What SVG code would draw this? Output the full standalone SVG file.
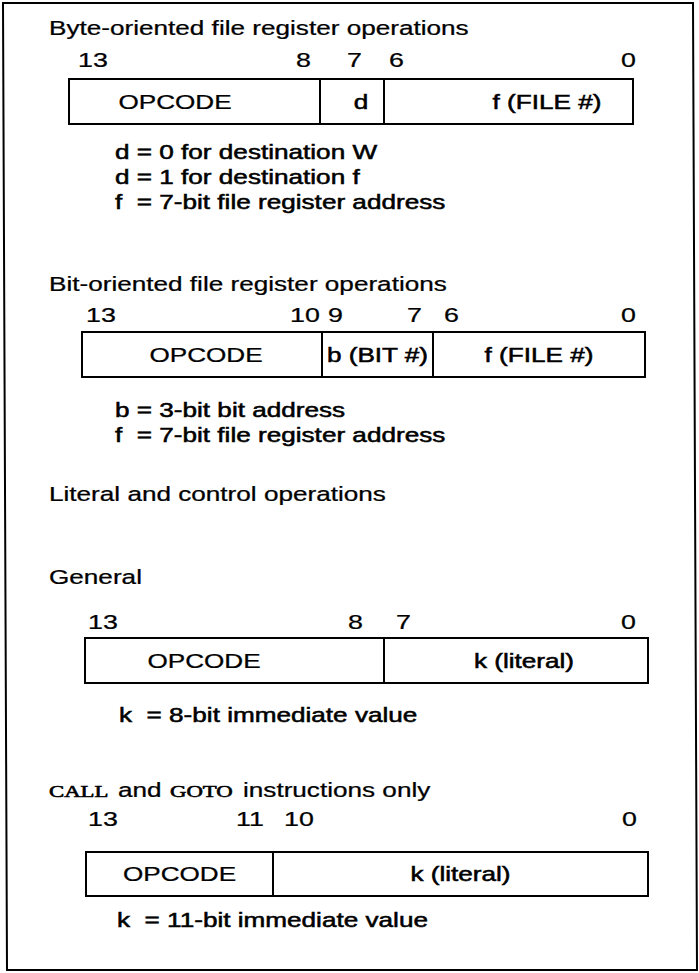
<svg xmlns="http://www.w3.org/2000/svg" width="699" height="973" viewBox="0 0 699 973">
<style>
  text { font-family: "Liberation Sans", Arial, sans-serif; font-size: 19.5px; fill: #000; stroke: #000; stroke-width: 0.25px; }
  .num { font-size: 20px; }
  .hv { stroke-width: 0.5px; }
  .mono { font-family: "Liberation Serif", "Times New Roman", serif; font-size: 17px; stroke-width: 0.6px; }
  .mid { text-anchor: middle; }
  .pre { white-space: pre; }
  .box { fill: none; stroke: #000; stroke-width: 2; }
  .div { stroke: #000; stroke-width: 2; }
  .frame { fill: none; stroke: #000; stroke-width: 2; }
</style>
<rect x="0" y="0" width="699" height="973" fill="#fff"/>
<polygon class="frame" points="3,3 693,3 697,970 7,970"/>

<!-- Section 1: Byte-oriented -->
<g id="byte-title">
  <text transform="translate(49,35) scale(1.34 1)">Byte-oriented file register operations</text>
</g>
<g id="byte-bits">
  <text class="num" transform="translate(78,67) scale(1.34 1)">13</text>
  <text class="num" transform="translate(296,67) scale(1.34 1)">8</text>
  <text class="num" transform="translate(347,67) scale(1.34 1)">7</text>
  <text class="num" transform="translate(389,67) scale(1.34 1)">6</text>
  <text class="num" transform="translate(621,67) scale(1.34 1)">0</text>
</g>
<g id="byte-format">
  <rect class="box" x="69" y="79" width="564" height="45"/>
  <line class="div" x1="320" y1="79" x2="320" y2="124"/>
  <line class="div" x1="384" y1="79" x2="384" y2="124"/>
  <text class="mid" transform="translate(175,109) scale(1.34 1)">OPCODE</text>
  <text class="mid hv" transform="translate(361,109) scale(1.34 1)">d</text>
  <text class="mid hv" transform="translate(547,109) scale(1.34 1)">f (FILE #)</text>
</g>
<g id="byte-notes">
  <text class="hv" transform="translate(115,159) scale(1.34 1)">d = 0 for destination W</text>
  <text class="hv" transform="translate(115,184) scale(1.34 1)">d = 1 for destination f</text>
  <text class="hv pre" transform="translate(115,209) scale(1.34 1)">f  = 7-bit file register address</text>
</g>

<!-- Section 2: Bit-oriented -->
<g id="bit-title">
  <text transform="translate(49,291) scale(1.34 1)">Bit-oriented file register operations</text>
</g>
<g id="bit-bits">
  <text class="num" transform="translate(86,322) scale(1.34 1)">13</text>
  <text class="num" transform="translate(290,322) scale(1.34 1)">10</text>
  <text class="num" transform="translate(328,322) scale(1.34 1)">9</text>
  <text class="num" transform="translate(407,322) scale(1.34 1)">7</text>
  <text class="num" transform="translate(444,322) scale(1.34 1)">6</text>
  <text class="num" transform="translate(621,322) scale(1.34 1)">0</text>
</g>
<g id="bit-format">
  <rect class="box" x="82" y="332" width="563" height="45"/>
  <line class="div" x1="322" y1="332" x2="322" y2="377"/>
  <line class="div" x1="433" y1="332" x2="433" y2="377"/>
  <text class="mid" transform="translate(206,362) scale(1.34 1)">OPCODE</text>
  <text class="mid hv" transform="translate(377.5,362) scale(1.34 1)">b (BIT #)</text>
  <text class="mid hv" transform="translate(539,362) scale(1.34 1)">f (FILE #)</text>
</g>
<g id="bit-notes">
  <text class="hv" transform="translate(115,417) scale(1.34 1)">b = 3-bit bit address</text>
  <text class="hv pre" transform="translate(115,442) scale(1.34 1)">f  = 7-bit file register address</text>
</g>

<!-- Section 3: Literal and control -->
<g id="literal-title">
  <text transform="translate(49,501) scale(1.34 1)">Literal and control operations</text>
</g>
<g id="general-title">
  <text transform="translate(49,584) scale(1.34 1)">General</text>
</g>
<g id="general-bits">
  <text class="num" transform="translate(88,629) scale(1.34 1)">13</text>
  <text class="num" transform="translate(348,629) scale(1.34 1)">8</text>
  <text class="num" transform="translate(396,629) scale(1.34 1)">7</text>
  <text class="num" transform="translate(621,629) scale(1.34 1)">0</text>
</g>
<g id="general-format">
  <rect class="box" x="85" y="638" width="563" height="45"/>
  <line class="div" x1="384" y1="638" x2="384" y2="683"/>
  <text class="mid" transform="translate(204,668) scale(1.34 1)">OPCODE</text>
  <text class="mid hv" transform="translate(524,668) scale(1.34 1)">k (literal)</text>
</g>
<g id="general-notes">
  <text class="hv pre" transform="translate(119,722) scale(1.34 1)">k  = 8-bit immediate value</text>
</g>

<!-- Section 4: CALL and GOTO -->
<g id="callgoto-title">
  <text class="mono" transform="translate(49,797) scale(1.34 1)">CALL</text>
  <text transform="translate(118,797) scale(1.34 1)">and</text>
  <text class="mono" transform="translate(170,797) scale(1.34 1)">GOTO</text>
  <text transform="translate(243,797) scale(1.34 1)">instructions only</text>
</g>
<g id="callgoto-bits">
  <text class="num" transform="translate(88,826) scale(1.34 1)">13</text>
  <text class="num" transform="translate(236,826) scale(1.34 1)">11</text>
  <text class="num" transform="translate(284,826) scale(1.34 1)">10</text>
  <text class="num" transform="translate(622,826) scale(1.34 1)">0</text>
</g>
<g id="callgoto-format">
  <rect class="box" x="86" y="852" width="562" height="44"/>
  <line class="div" x1="273" y1="852" x2="273" y2="896"/>
  <text class="mid" transform="translate(179.5,881) scale(1.34 1)">OPCODE</text>
  <text class="mid hv" transform="translate(460.5,881) scale(1.34 1)">k (literal)</text>
</g>
<g id="callgoto-notes">
  <text class="hv pre" transform="translate(117,927) scale(1.34 1)">k  = 11-bit immediate value</text>
</g>
</svg>
